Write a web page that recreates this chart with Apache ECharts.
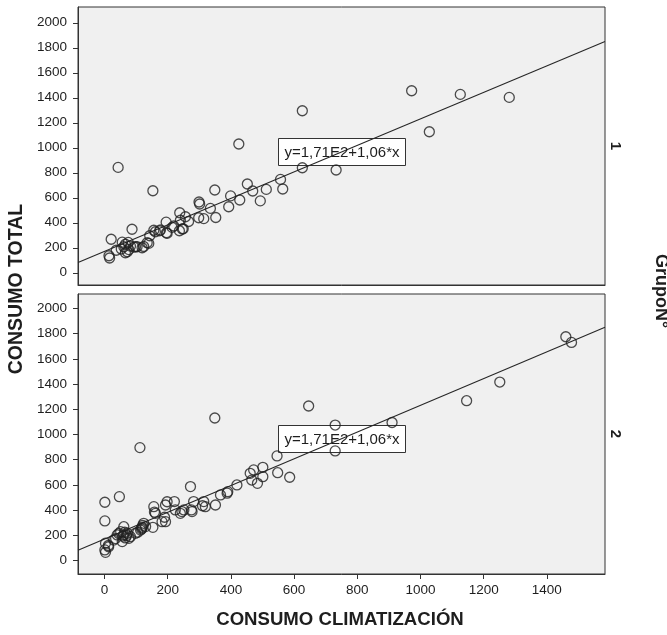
<!DOCTYPE html>
<html>
<head>
<meta charset="utf-8">
<script src="https://cdn.jsdelivr.net/npm/echarts@6/dist/echarts.min.js"></script>
<style>
  html, body { margin: 0; padding: 0; background: #ffffff; }
  #chart { width: 667px; height: 635px; }
</style>
</head>
<body>
<div id="chart"></div>
<script>
// Panel (group) labels
const groupLabels = ['1', '2'];

// Group 1: consumo climatización vs consumo total
const g1Clima = [14,16,21,37,43,53,56,61,66,66,72,75,77,82,87,93,98,103,119,124,135,140,143,153,156,161,174,177,195,196,198,214,219,237,238,240,246,249,256,266,298,299,301,314,335,349,352,393,399,425,428,452,469,493,512,557,564,626,626,733,972,1028,1126,1281];
const g1Total = [136,118,268,180,843,190,245,208,228,160,168,243,185,213,348,205,208,208,200,210,240,235,296,656,340,328,335,342,405,320,315,363,374,336,480,420,350,352,448,410,440,566,550,433,515,662,442,528,615,1030,582,710,654,575,667,747,670,1296,840,822,1456,1128,1427,1403];

// Group 2
const g2Clima = [1,1,1,3,3,12,13,29,35,40,45,47,51,56,58,61,61,64,66,70,72,77,82,98,105,112,114,117,119,119,121,124,130,153,156,158,161,182,190,193,198,193,221,224,240,245,251,272,275,277,282,310,314,319,349,351,367,388,390,419,461,466,472,484,501,501,546,548,586,646,730,730,910,1146,1251,1460,1478];
const g2Total = [463,315,85,66,138,120,110,163,175,204,215,507,230,151,195,269,204,225,180,200,217,177,190,217,225,896,242,250,257,265,280,296,270,264,428,385,375,309,344,441,467,309,468,402,375,389,402,587,402,389,468,435,468,428,1131,441,521,535,547,600,692,639,719,613,740,666,830,697,661,1226,1075,870,1095,1268,1416,1775,1730];

// Fitted line y = 1,71E2 + 1,06*x
const fitIntercept = 171;
const fitSlope = 1.06;
const fitLabel = 'y=1,71E2+1,06*x';

// Axis ticks
const xTicks = [0, 200, 400, 600, 800, 1000, 1200, 1400];
const yTicks = [0, 200, 400, 600, 800, 1000, 1200, 1400, 1600, 1800, 2000];

const X_MIN = -84, X_MAX = 1584;
const FONT = '"Liberation Sans", Arial, sans-serif';
const INK = '#1e1e1e';
const FRAME = '#333333';

function pairs(xs, ys) { return xs.map((x, i) => [x, ys[i]]); }
function fitLine() {
  return [[X_MIN, fitIntercept + fitSlope * X_MIN], [X_MAX, fitIntercept + fitSlope * X_MAX]];
}
const plain = v => String(v);

const grids = [
  { left: 78, top: 7, width: 527, height: 278 },
  { left: 78, top: 294, width: 527, height: 280 }
].map(g => Object.assign(g, { show: true, backgroundColor: '#f0f0f0', borderColor: FRAME, borderWidth: 1, containLabel: false }));

function xAxisFor(i, showLabels) {
  return {
    type: 'value', gridIndex: i, min: X_MIN, max: X_MAX,
    axisLine: { show: true, onZero: false, lineStyle: { color: FRAME, width: 1 } },
    axisTick: { show: showLabels, inside: false, length: 5, customValues: xTicks, lineStyle: { color: FRAME } },
    axisLabel: { show: showLabels, customValues: xTicks, formatter: plain, margin: 9, color: INK, fontFamily: FONT, fontSize: 13.5 },
    splitLine: { show: false }
  };
}
function yAxisFor(i, mn, mx) {
  return {
    type: 'value', gridIndex: i, min: mn, max: mx,
    axisLine: { show: true, onZero: false, lineStyle: { color: FRAME, width: 1 } },
    axisTick: { show: true, inside: false, length: 5, customValues: yTicks, lineStyle: { color: FRAME } },
    axisLabel: { show: true, customValues: yTicks, formatter: plain, margin: 11, color: INK, fontFamily: FONT, fontSize: 13.5 },
    splitLine: { show: false }
  };
}

function scatter(i, xs, ys) {
  return {
    type: 'scatter', xAxisIndex: i, yAxisIndex: i,
    data: pairs(xs, ys), symbol: 'circle', symbolSize: 10,
    itemStyle: { color: 'rgba(0,0,0,0)', borderColor: '#202020', borderWidth: 1.3 },
    emphasis: { disabled: true }, z: 3
  };
}
function line(i) {
  return {
    type: 'line', xAxisIndex: i, yAxisIndex: i, data: fitLine(),
    symbol: 'none', lineStyle: { color: '#262626', width: 1.1 },
    clip: true, silent: true, z: 2
  };
}

function eqBox(top) {
  return {
    type: 'group', left: 278, top: top, z: 10,
    children: [
      { type: 'rect', shape: { x: 0, y: 0, width: 127, height: 27 },
        style: { fill: '#ffffff', stroke: '#333333', lineWidth: 1 } },
      { type: 'text', x: 63.5, y: 14, style: { text: fitLabel, fill: INK, font: '15px ' + FONT, align: 'center', verticalAlign: 'middle' } }
    ]
  };
}

const option = {
  animation: false,
  backgroundColor: '#ffffff',
  grid: grids,
  xAxis: [xAxisFor(0, false), xAxisFor(1, true)],
  yAxis: [yAxisFor(0, -98, 2126), yAxisFor(1, -106, 2114)],
  series: [scatter(0, g1Clima, g1Total), line(0), scatter(1, g2Clima, g2Total), line(1)],
  graphic: [
    eqBox(138),
    eqBox(425),
    { type: 'text', x: 615, y: 146, rotation: -Math.PI / 2, z: 10,
      style: { text: groupLabels[0], fill: INK, font: 'bold 15px ' + FONT, align: 'center', verticalAlign: 'middle' } },
    { type: 'text', x: 615, y: 434, rotation: -Math.PI / 2, z: 10,
      style: { text: groupLabels[1], fill: INK, font: 'bold 15px ' + FONT, align: 'center', verticalAlign: 'middle' } },
    { type: 'text', x: 661, y: 291, rotation: -Math.PI / 2, z: 10,
      style: { text: 'GrupoN°', fill: INK, font: 'bold 18px ' + FONT, align: 'center', verticalAlign: 'middle' } },
    { type: 'text', x: 17, y: 289, rotation: Math.PI / 2, z: 10,
      style: { text: 'CONSUMO TOTAL', fill: INK, font: 'bold 19.5px ' + FONT, align: 'center', verticalAlign: 'middle' } },
    { type: 'text', x: 340, y: 620, z: 10,
      style: { text: 'CONSUMO CLIMATIZACIÓN', fill: INK, font: 'bold 18.6px ' + FONT, align: 'center', verticalAlign: 'middle' } }
  ]
};

const chart = echarts.init(document.getElementById('chart'), null, { renderer: 'canvas' });
chart.setOption(option);
</script>
</body>
</html>
